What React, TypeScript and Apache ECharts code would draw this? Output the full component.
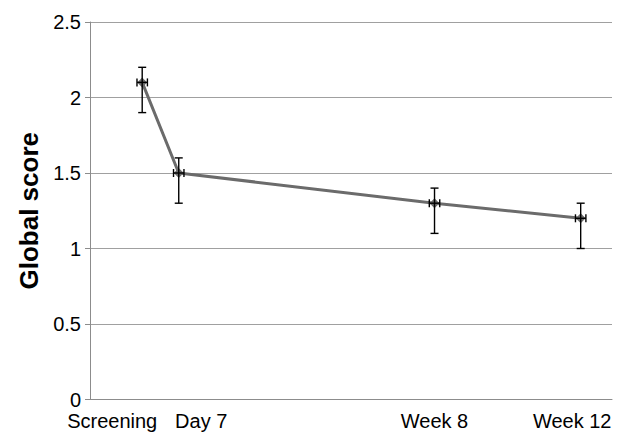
import React, { useEffect, useRef } from "react";
import * as echarts from "echarts";

const categories = ["Screening", "Day 7", "Week 8", "Week 12"];
const days = [0, 7, 56, 84];
const scores = [2.1, 1.5, 1.3, 1.2];
const lower = [1.9, 1.3, 1.1, 1.0];
const upper = [2.2, 1.6, 1.4, 1.3];
const dayErr = [1, 1, 1, 1];
const yMin = 0;
const yMax = 2.5;
const yStep = 0.5;
const xMin = -10;
const xMax = 90;

const FONT = "'Liberation Sans', Arial, sans-serif";
const LABEL_SIZE = 20;

export default function App() {
  const ref = useRef<HTMLDivElement>(null);
  useEffect(() => {
    if (!ref.current) return;
    const chart = echarts.init(ref.current, undefined, { renderer: "svg" });
    const lineData = days.map((d, i) => [d, scores[i]]);
    const errData = days.map((d, i) => [d, scores[i], lower[i], upper[i], dayErr[i]]);
    const richBase = { fontSize: LABEL_SIZE, fontFamily: FONT, color: "#000" };
    chart.setOption({
      animation: false,
      backgroundColor: "#fff",
      textStyle: { fontFamily: FONT },
      grid: { left: 90, right: 6, top: 22, bottom: 38.5, containLabel: false },
      xAxis: {
        type: "value",
        min: xMin,
        max: xMax,
        axisLine: { show: true, onZero: false, lineStyle: { color: "#8c8c8c", width: 1 } },
        axisTick: { show: false },
        splitLine: { show: false },
        axisLabel: {
          customValues: days,
          hideOverlap: false,
          margin: 11,
          fontSize: LABEL_SIZE,
          fontFamily: FONT,
          color: "#000",
          formatter: (v: number) => {
            const i = days.indexOf(v);
            return i < 0 ? "" : `{l${i}|${categories[i]}}`;
          },
          rich: {
            l0: { ...richBase, padding: [0, 60, 0, 0] },
            l1: { ...richBase, padding: [0, 0, 0, 45] },
            l2: { ...richBase },
            l3: { ...richBase, padding: [0, 17, 0, 0] },
          },
        },
      },
      yAxis: {
        type: "value",
        min: yMin,
        max: yMax,
        interval: yStep,
        name: "Global score",
        nameLocation: "middle",
        nameGap: 48,
        nameRotate: 90,
        nameTextStyle: { fontSize: 26, fontWeight: "bold", color: "#000", fontFamily: FONT },
        axisLine: { show: true, onZero: false, lineStyle: { color: "#8c8c8c", width: 1 } },
        axisTick: { show: true, inside: false, length: 5, lineStyle: { color: "#8c8c8c" } },
        splitLine: { show: true, lineStyle: { color: "#a0a0a0", width: 1 } },
        axisLabel: {
          margin: 9,
          fontSize: LABEL_SIZE,
          fontFamily: FONT,
          color: "#000",
          formatter: (v: number) => String(v),
        },
      },
      series: [
        {
          type: "line",
          data: lineData,
          symbol: "diamond",
          symbolSize: 10,
          lineStyle: { color: "#6b6b6b", width: 3 },
          itemStyle: { color: "#6b6b6b" },
          z: 2,
        },
        {
          type: "custom",
          data: errData,
          z: 3,
          renderItem: (params: any, api: any) => {
            const x = api.value(0);
            const y = api.value(1);
            const lo = api.value(2);
            const hi = api.value(3);
            const xe = api.value(4);
            const top = api.coord([x, hi]);
            const bot = api.coord([x, lo]);
            const left = api.coord([x - xe, y]);
            const right = api.coord([x + xe, y]);
            const cap = 4;
            const style = { stroke: "#000", lineWidth: 1.4 };
            return {
              type: "group",
              children: [
                { type: "line", shape: { x1: top[0], y1: top[1], x2: bot[0], y2: bot[1] }, style },
                { type: "line", shape: { x1: top[0] - cap, y1: top[1], x2: top[0] + cap, y2: top[1] }, style },
                { type: "line", shape: { x1: bot[0] - cap, y1: bot[1], x2: bot[0] + cap, y2: bot[1] }, style },
                { type: "line", shape: { x1: left[0], y1: left[1], x2: right[0], y2: right[1] }, style },
                { type: "line", shape: { x1: left[0], y1: left[1] - cap, x2: left[0], y2: left[1] + cap }, style },
                { type: "line", shape: { x1: right[0], y1: right[1] - cap, x2: right[0], y2: right[1] + cap }, style },
              ],
            };
          },
        },
      ],
    });
    return () => chart.dispose();
  }, []);
  return (
    <div
      ref={ref}
      style={{ position: "fixed", left: 0, top: 0, width: 618, height: 438, background: "#fff" }}
    />
  );
}
